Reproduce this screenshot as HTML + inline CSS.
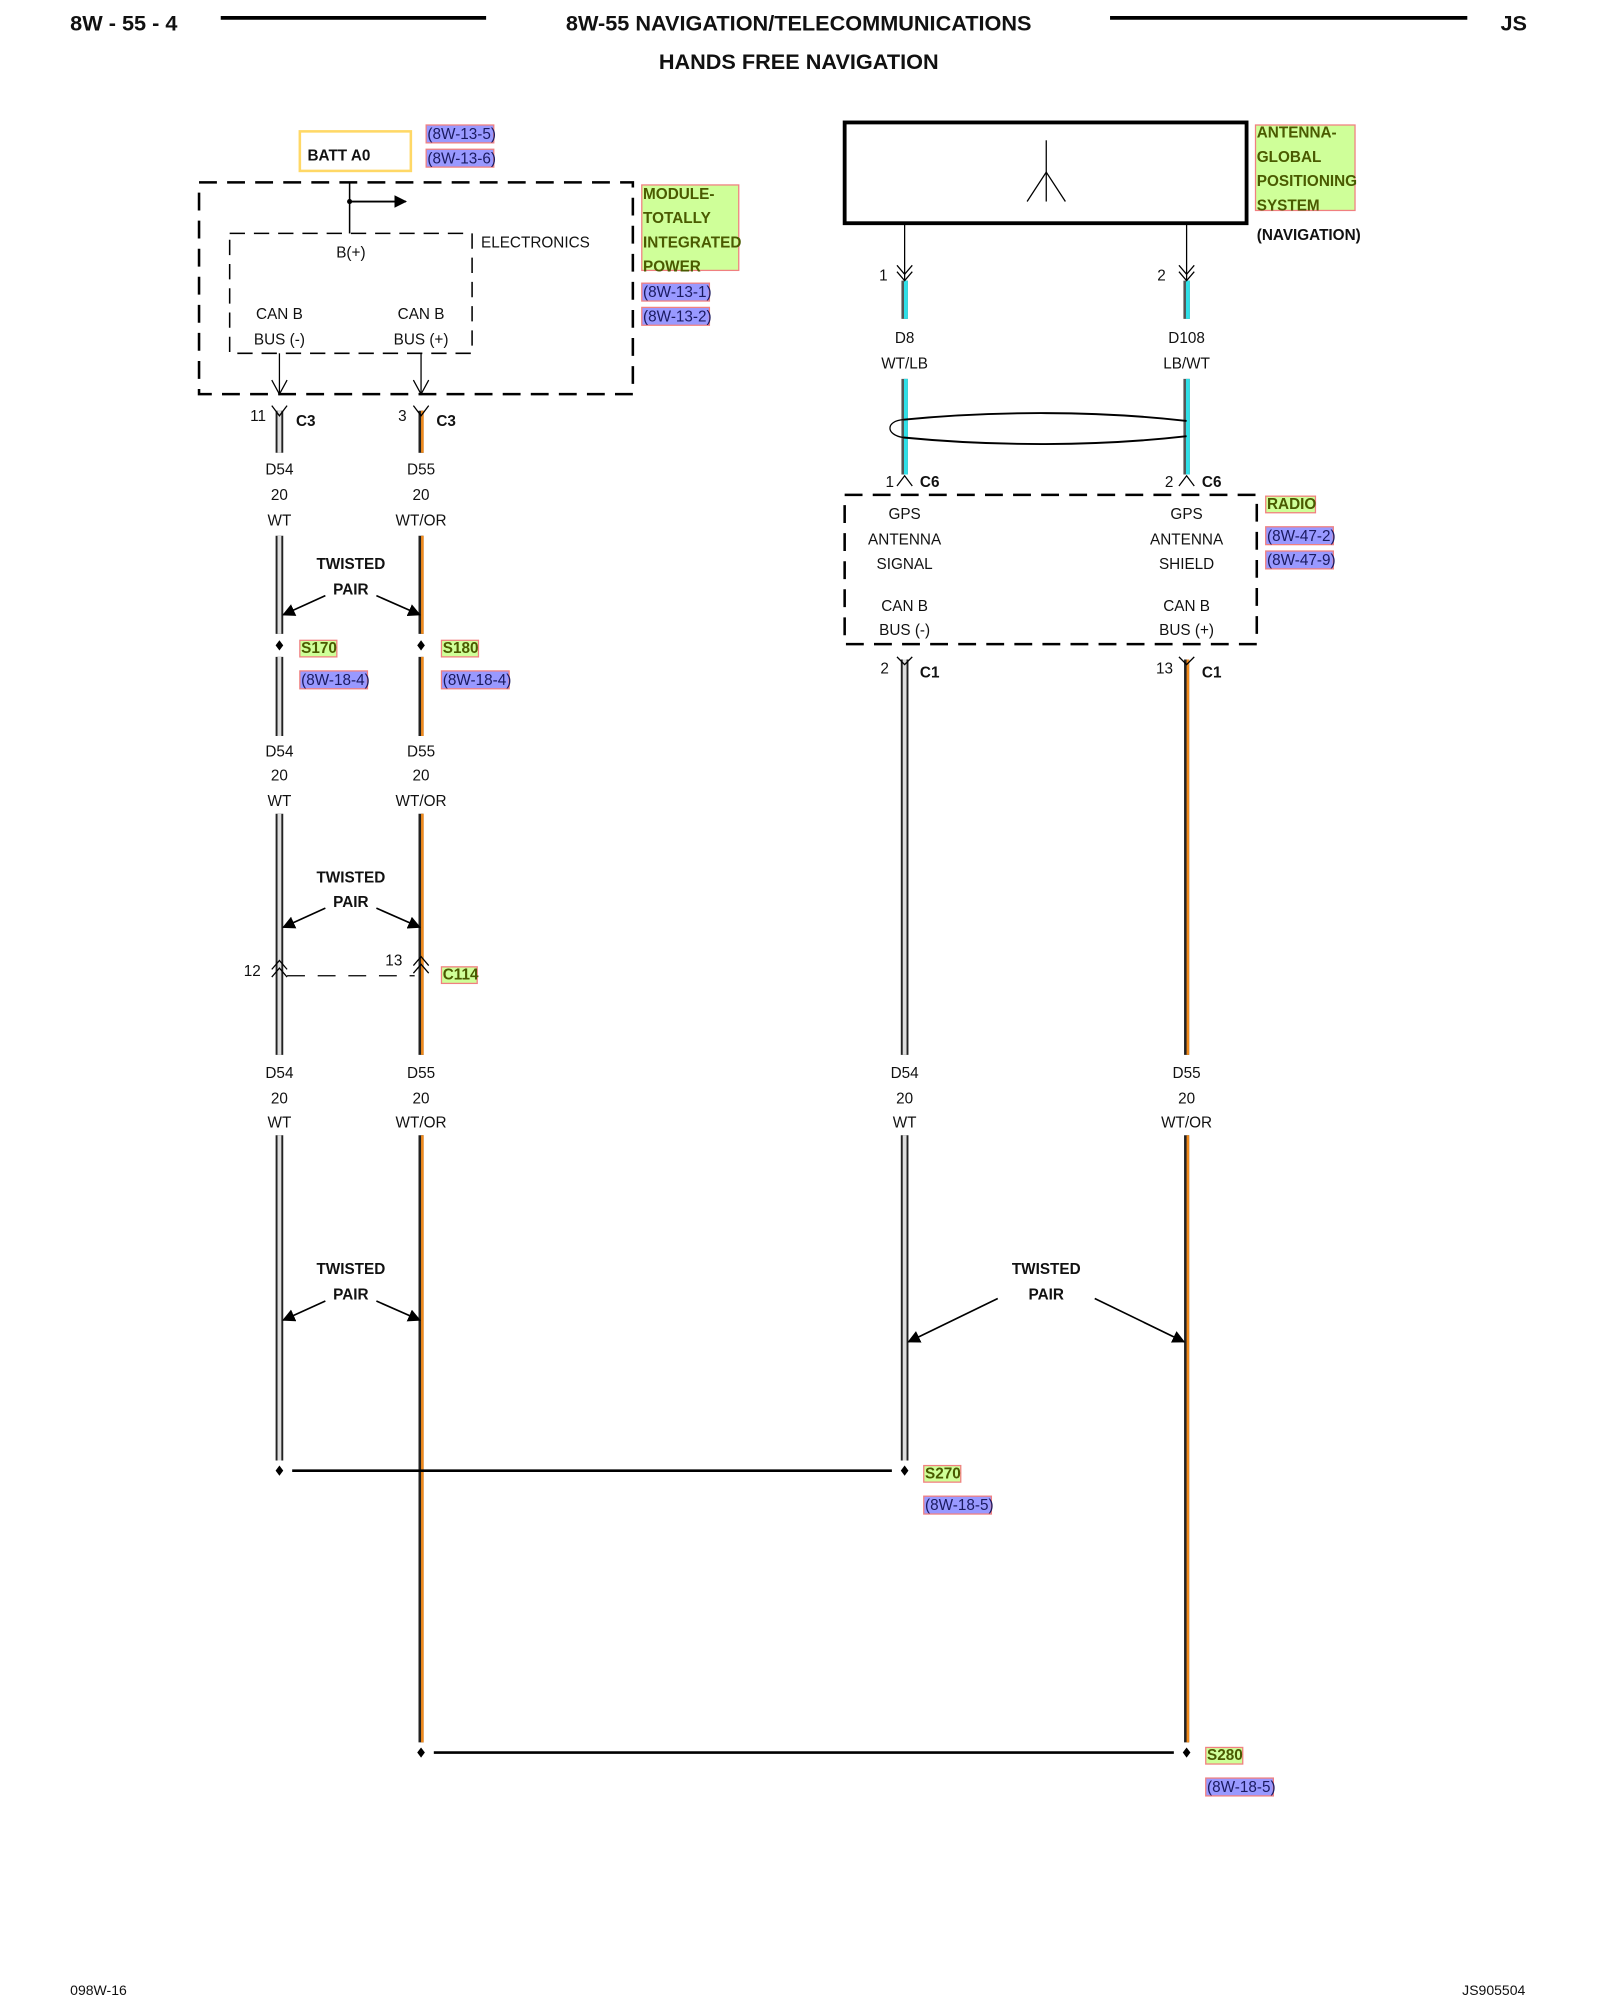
<!DOCTYPE html>
<html><head><meta charset="utf-8"><style>
html,body{margin:0;padding:0;background:#fff}
svg{display:block}
text{font-family:"Liberation Sans",Arial,sans-serif;font-size:12px;fill:#111}
.b{font-weight:bold}
.c{text-anchor:middle}
.g{fill:#cfff99;stroke:#f08080;stroke-width:1}
.bl{fill:#9999ff;stroke:#f08080;stroke-width:1}
.gt{fill:#4a5a00;font-weight:bold}
.bt{fill:#1a1a60}
</style></head><body>
<svg width="1600" height="2000" viewBox="0 0 1254 1568" preserveAspectRatio="none" xmlns="http://www.w3.org/2000/svg">
<defs>
<marker id="ah" markerWidth="10" markerHeight="10" refX="9" refY="5" orient="auto" markerUnits="userSpaceOnUse"><path d="M0,0 L10,5 L0,10 z" fill="#000"/></marker>
</defs>
<!-- header -->
<text x="55" y="24" class="b" style="font-size:17px">8W - 55 - 4</text>
<line x1="173" y1="14" x2="381" y2="14" stroke="#000" stroke-width="3"/>
<text x="626" y="24" class="b c" style="font-size:17px">8W-55 NAVIGATION/TELECOMMUNICATIONS</text>
<line x1="870" y1="14" x2="1150" y2="14" stroke="#000" stroke-width="3"/>
<text x="1176" y="24" class="b" style="font-size:17px">JS</text>
<text x="626" y="54" class="b c" style="font-size:17px">HANDS FREE NAVIGATION</text>

<!-- left module -->
<rect x="235" y="103" width="87" height="31" fill="none" stroke="#ffd866" stroke-width="2"/>
<text x="241" y="126" class="b">BATT A0</text>
<rect x="334" y="98" width="53" height="14" class="bl"/><text x="335" y="109" class="bt">(8W-13-5)</text>
<rect x="334" y="117" width="53" height="14" class="bl"/><text x="335" y="128" class="bt">(8W-13-6)</text>
<rect x="156" y="143" width="340" height="166" fill="none" stroke="#000" stroke-width="2" stroke-dasharray="14,8"/>
<rect x="180" y="183" width="190" height="94" fill="none" stroke="#000" stroke-width="1.2" stroke-dasharray="12,7"/>
<line x1="274" y1="143" x2="274" y2="183" stroke="#000" stroke-width="1.2"/>
<circle cx="274" cy="158" r="2" fill="#000"/>
<line x1="274" y1="158" x2="318" y2="158" stroke="#000" stroke-width="1.5" marker-end="url(#ah)"/>
<text x="275" y="202" class="c">B(+)</text>
<text x="377" y="194">ELECTRONICS</text>
<text x="219" y="250" class="c">CAN B</text><text x="219" y="270" class="c">BUS (-)</text>
<text x="330" y="250" class="c">CAN B</text><text x="330" y="270" class="c">BUS (+)</text>
<g stroke="#000" stroke-width="1" fill="none">
<line x1="219" y1="277" x2="219" y2="309"/><path d="M213,298 L219,309 L225,298"/>
<line x1="330" y1="277" x2="330" y2="309"/><path d="M324,298 L330,309 L336,298"/>
</g>
<rect x="503" y="145" width="76" height="67" class="g"/>
<text x="504" y="156" class="gt">MODULE-</text><text x="504" y="175" class="gt">TOTALLY</text><text x="504" y="194" class="gt">INTEGRATED</text><text x="504" y="213" class="gt">POWER</text>
<rect x="503" y="222" width="53" height="14" class="bl"/><text x="504" y="233" class="bt">(8W-13-1)</text>
<rect x="503" y="241" width="53" height="14" class="bl"/><text x="504" y="252" class="bt">(8W-13-2)</text>

<!-- left wires -->
<g stroke-linecap="butt">
<g>
<line x1="219" y1="322" x2="219" y2="355" stroke="#222" stroke-width="6"/><line x1="219" y1="322" x2="219" y2="355" stroke="#ddd" stroke-width="3"/>
<line x1="219" y1="420" x2="219" y2="497" stroke="#222" stroke-width="6"/><line x1="219" y1="420" x2="219" y2="497" stroke="#ddd" stroke-width="3"/>
<line x1="219" y1="515" x2="219" y2="577" stroke="#222" stroke-width="6"/><line x1="219" y1="515" x2="219" y2="577" stroke="#ddd" stroke-width="3"/>
<line x1="219" y1="638" x2="219" y2="827" stroke="#222" stroke-width="6"/><line x1="219" y1="638" x2="219" y2="827" stroke="#ddd" stroke-width="3"/>
<line x1="219" y1="890" x2="219" y2="1145" stroke="#222" stroke-width="6"/><line x1="219" y1="890" x2="219" y2="1145" stroke="#ddd" stroke-width="3"/>
</g>
<g>
<line x1="330" y1="322" x2="330" y2="355" stroke="#222" stroke-width="4"/><line x1="331" y1="322" x2="331" y2="355" stroke="#f08a1c" stroke-width="2"/>
<line x1="330" y1="420" x2="330" y2="497" stroke="#222" stroke-width="4"/><line x1="331" y1="420" x2="331" y2="497" stroke="#f08a1c" stroke-width="2"/>
<line x1="330" y1="515" x2="330" y2="577" stroke="#222" stroke-width="4"/><line x1="331" y1="515" x2="331" y2="577" stroke="#f08a1c" stroke-width="2"/>
<line x1="330" y1="638" x2="330" y2="827" stroke="#222" stroke-width="4"/><line x1="331" y1="638" x2="331" y2="827" stroke="#f08a1c" stroke-width="2"/>
<line x1="330" y1="890" x2="330" y2="1366" stroke="#222" stroke-width="4"/><line x1="331" y1="890" x2="331" y2="1366" stroke="#f08a1c" stroke-width="2"/>
</g>
<line x1="709" y1="517" x2="709" y2="827" stroke="#222" stroke-width="6"/><line x1="709" y1="517" x2="709" y2="827" stroke="#ddd" stroke-width="3"/>
<line x1="709" y1="890" x2="709" y2="1145" stroke="#222" stroke-width="6"/><line x1="709" y1="890" x2="709" y2="1145" stroke="#ddd" stroke-width="3"/>
<line x1="930" y1="517" x2="930" y2="827" stroke="#222" stroke-width="4"/><line x1="931" y1="517" x2="931" y2="827" stroke="#f08a1c" stroke-width="2"/>
<line x1="930" y1="890" x2="930" y2="1366" stroke="#222" stroke-width="4"/><line x1="931" y1="890" x2="931" y2="1366" stroke="#f08a1c" stroke-width="2"/>
<line x1="709" y1="220" x2="709" y2="250" stroke="#555" stroke-width="5"/><line x1="710" y1="220" x2="710" y2="250" stroke="#2ee0e8" stroke-width="3"/>
<line x1="930" y1="220" x2="930" y2="250" stroke="#555" stroke-width="5"/><line x1="931" y1="220" x2="931" y2="250" stroke="#2ee0e8" stroke-width="3"/>
<line x1="709" y1="297" x2="709" y2="372" stroke="#555" stroke-width="5"/><line x1="710" y1="297" x2="710" y2="372" stroke="#2ee0e8" stroke-width="3"/>
<line x1="930" y1="297" x2="930" y2="372" stroke="#555" stroke-width="5"/><line x1="931" y1="297" x2="931" y2="372" stroke="#2ee0e8" stroke-width="3"/>
</g>

<!-- C3 connectors -->
<g stroke="#000" stroke-width="1" fill="none">
<path d="M213,318 L219,326 L225,318"/><path d="M324,318 L330,326 L336,318"/>
</g>
<text x="196" y="330">11</text><text x="232" y="334" class="b">C3</text>
<text x="312" y="330">3</text><text x="342" y="334" class="b">C3</text>
<text x="219" y="372" class="c">D54</text><text x="219" y="392" class="c">20</text><text x="219" y="412" class="c">WT</text>
<text x="330" y="372" class="c">D55</text><text x="330" y="392" class="c">20</text><text x="330" y="412" class="c">WT/OR</text>

<text x="275" y="446" class="b c">TWISTED</text><text x="275" y="466" class="b c">PAIR</text>
<line x1="255" y1="467" x2="222" y2="482" stroke="#000" stroke-width="1.3" marker-end="url(#ah)"/>
<line x1="295" y1="467" x2="329" y2="482" stroke="#000" stroke-width="1.3" marker-end="url(#ah)"/>
<path d="M219,502 l3,4 l-3,4 l-3,-4z" fill="#000"/><path d="M330,502 l3,4 l-3,4 l-3,-4z" fill="#000"/>
<rect x="235" y="502" width="29" height="13" class="g"/><text x="236" y="512" class="gt">S170</text>
<rect x="346" y="502" width="29" height="13" class="g"/><text x="347" y="512" class="gt">S180</text>
<rect x="235" y="526" width="53" height="14" class="bl"/><text x="236" y="537" class="bt">(8W-18-4)</text>
<rect x="346" y="526" width="53" height="14" class="bl"/><text x="347" y="537" class="bt">(8W-18-4)</text>

<text x="219" y="593" class="c">D54</text><text x="219" y="612" class="c">20</text><text x="219" y="632" class="c">WT</text>
<text x="330" y="593" class="c">D55</text><text x="330" y="612" class="c">20</text><text x="330" y="632" class="c">WT/OR</text>

<text x="275" y="692" class="b c">TWISTED</text><text x="275" y="711" class="b c">PAIR</text>
<line x1="255" y1="712" x2="222" y2="727" stroke="#000" stroke-width="1.3" marker-end="url(#ah)"/>
<line x1="295" y1="712" x2="329" y2="727" stroke="#000" stroke-width="1.3" marker-end="url(#ah)"/>

<g stroke="#000" stroke-width="1" fill="none">
<path d="M213,760 L219,753 L225,760"/><path d="M213,766 L219,759 L225,766"/>
<path d="M324,757 L330,750 L336,757"/><path d="M324,763 L330,756 L336,763"/>
<line x1="225" y1="765" x2="325" y2="765" stroke-dasharray="14,10"/>
</g>
<text x="191" y="765">12</text><text x="302" y="757">13</text>
<rect x="346" y="758" width="28" height="13" class="g"/><text x="347" y="768" class="gt">C114</text>

<text x="219" y="845" class="c">D54</text><text x="219" y="865" class="c">20</text><text x="219" y="884" class="c">WT</text>
<text x="330" y="845" class="c">D55</text><text x="330" y="865" class="c">20</text><text x="330" y="884" class="c">WT/OR</text>

<text x="275" y="999" class="b c">TWISTED</text><text x="275" y="1019" class="b c">PAIR</text>
<line x1="255" y1="1020" x2="222" y2="1035" stroke="#000" stroke-width="1.3" marker-end="url(#ah)"/>
<line x1="295" y1="1020" x2="329" y2="1035" stroke="#000" stroke-width="1.3" marker-end="url(#ah)"/>

<path d="M219,1149 l3,4 l-3,4 l-3,-4z" fill="#000"/>
<line x1="229" y1="1153" x2="699" y2="1153" stroke="#000" stroke-width="2"/>
<path d="M709,1149 l3,4 l-3,4 l-3,-4z" fill="#000"/>
<rect x="724" y="1149" width="29" height="13" class="g"/><text x="725" y="1159" class="gt">S270</text>
<rect x="724" y="1173" width="53" height="14" class="bl"/><text x="725" y="1184" class="bt">(8W-18-5)</text>
<path d="M330,1370 l3,4 l-3,4 l-3,-4z" fill="#000"/>
<line x1="340" y1="1374" x2="920" y2="1374" stroke="#000" stroke-width="2"/>
<path d="M930,1370 l3,4 l-3,4 l-3,-4z" fill="#000"/>
<rect x="945" y="1370" width="29" height="13" class="g"/><text x="946" y="1380" class="gt">S280</text>
<rect x="945" y="1394" width="53" height="14" class="bl"/><text x="946" y="1405" class="bt">(8W-18-5)</text>

<!-- antenna -->
<rect x="662" y="96" width="315" height="79" fill="none" stroke="#000" stroke-width="3"/>
<g stroke="#000" stroke-width="1" fill="none">
<line x1="820" y1="110" x2="820" y2="158"/><path d="M805,158 L820,135 L835,158"/>
<line x1="709" y1="175" x2="709" y2="220"/><path d="M703,208 L709,215 L715,208"/><path d="M703,213 L709,220 L715,213"/>
<line x1="930" y1="175" x2="930" y2="220"/><path d="M924,208 L930,215 L936,208"/><path d="M924,213 L930,220 L936,213"/>
<path d="M708,329 C694,330 694,341 708,343"/>
<path d="M708,329 C780,322 860,322 930,330" stroke-width="1.5"/><path d="M708,343 C780,350 860,350 930,342" stroke-width="1.5"/>
</g>
<rect x="984" y="98" width="78" height="67" class="g"/>
<text x="985" y="108" class="gt">ANTENNA-</text><text x="985" y="127" class="gt">GLOBAL</text><text x="985" y="146" class="gt">POSITIONING</text><text x="985" y="165" class="gt">SYSTEM</text>
<text x="985" y="188" class="b">(NAVIGATION)</text>
<text x="689" y="220">1</text><text x="907" y="220">2</text>
<text x="709" y="269" class="c">D8</text><text x="709" y="289" class="c">WT/LB</text>
<text x="930" y="269" class="c">D108</text><text x="930" y="289" class="c">LB/WT</text>
<g stroke="#000" stroke-width="1" fill="none"><path d="M703,381 L709,373 L715,381"/><path d="M924,381 L930,373 L936,381"/></g>
<text x="694" y="382">1</text><text x="721" y="382" class="b">C6</text>
<text x="913" y="382">2</text><text x="942" y="382" class="b">C6</text>
<rect x="662" y="388" width="323" height="117" fill="none" stroke="#000" stroke-width="2" stroke-dasharray="14,8"/>
<text x="709" y="407" class="c">GPS</text><text x="709" y="427" class="c">ANTENNA</text><text x="709" y="446" class="c">SIGNAL</text>
<text x="709" y="479" class="c">CAN B</text><text x="709" y="498" class="c">BUS (-)</text>
<text x="930" y="407" class="c">GPS</text><text x="930" y="427" class="c">ANTENNA</text><text x="930" y="446" class="c">SHIELD</text>
<text x="930" y="479" class="c">CAN B</text><text x="930" y="498" class="c">BUS (+)</text>
<rect x="992" y="389" width="39" height="13" class="g"/><text x="993" y="399" class="gt">RADIO</text>
<rect x="992" y="413" width="53" height="14" class="bl"/><text x="993" y="424" class="bt">(8W-47-2)</text>
<rect x="992" y="432" width="53" height="14" class="bl"/><text x="993" y="443" class="bt">(8W-47-9)</text>
<g stroke="#000" stroke-width="1" fill="none"><path d="M703,515 L709,521 L715,515"/><path d="M924,515 L930,521 L936,515"/></g>
<text x="690" y="528">2</text><text x="721" y="531" class="b">C1</text>
<text x="906" y="528">13</text><text x="942" y="531" class="b">C1</text>
<text x="709" y="845" class="c">D54</text><text x="709" y="865" class="c">20</text><text x="709" y="884" class="c">WT</text>
<text x="930" y="845" class="c">D55</text><text x="930" y="865" class="c">20</text><text x="930" y="884" class="c">WT/OR</text>
<text x="820" y="999" class="b c">TWISTED</text><text x="820" y="1019" class="b c">PAIR</text>
<line x1="782" y1="1018" x2="712" y2="1052" stroke="#000" stroke-width="1.3" marker-end="url(#ah)"/>
<line x1="858" y1="1018" x2="928" y2="1052" stroke="#000" stroke-width="1.3" marker-end="url(#ah)"/>
<text x="55" y="1564" style="font-size:11px">098W-16</text>
<text x="1146" y="1564" style="font-size:11px">JS905504</text>
</svg>
</body></html>
